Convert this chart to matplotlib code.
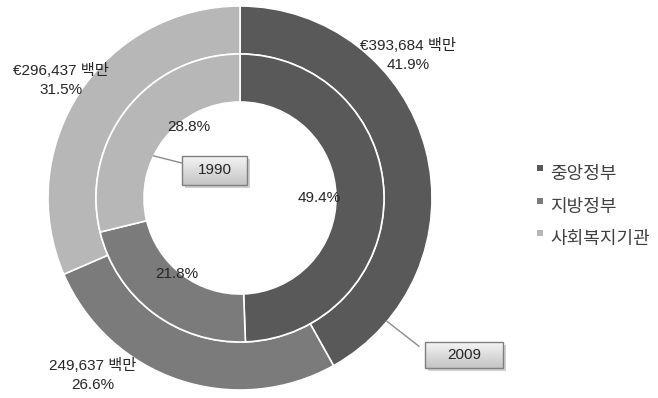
import numpy as np
import matplotlib
matplotlib.use("Agg")
import matplotlib.pyplot as plt
from matplotlib.patches import Rectangle
from matplotlib.colors import LinearSegmentedColormap

plt.rcParams['font.family'] = ['Liberation Sans', 'Noto Sans CJK KR', 'DejaVu Sans']

# 정부 부문별 지출 비중
categories = ['중앙정부', '지방정부', '사회복지기관']
share_2009 = [41.9, 26.6, 31.5]
share_1990 = [49.4, 21.8, 28.8]
amount_2009 = ['€393,684 백만', '249,637 백만', '€296,437 백만']
colors = ['#595959', '#7b7b7b', '#b7b7b7']

W, H = 658, 398
cx, cy, R = 240, 198, 192  # pie centre / radius in pixels

fig = plt.figure(figsize=(W / 100, H / 100), dpi=100)
ax = fig.add_axes([0, 0, 1, 1])

ax.pie(share_2009, radius=1.0, colors=colors, startangle=90, counterclock=False,
       wedgeprops=dict(width=0.25, edgecolor='white', linewidth=1.2))
ax.pie(share_1990, radius=0.75, colors=colors, startangle=90, counterclock=False,
       wedgeprops=dict(width=0.25, edgecolor='white', linewidth=1.2))

ax.set_aspect('equal')
ax.axis('off')

txt = dict(fontsize=11, color='#262626', ha='center', va='center', linespacing=1.45)

# outer ring labels (2009)
outer_pos = [(0.875, 0.745), (-0.766, -0.922), (-0.932, 0.615)]
for (x, y), amt, pct in zip(outer_pos, amount_2009, share_2009):
    ax.text(x, y, f'{amt}\n{pct:.1f}%', **txt)

# inner ring labels (1990)
inner_pos = [(0.411, 0.0), (-0.328, -0.396), (-0.266, 0.37)]
for (x, y), pct in zip(inner_pos, share_1990):
    ax.text(x, y, f'{pct:.1f}%', **txt)

box_cmap = LinearSegmentedColormap.from_list('box', ['#f4f4f4', '#c4c4c4'])


def callout(label, x0, y0, x1, y1, anchor_r, anchor_deg, attach):
    a = np.deg2rad(anchor_deg)
    ax.plot([anchor_r * np.cos(a), attach[0]], [anchor_r * np.sin(a), attach[1]],
            color='#8c8c8c', lw=1, zorder=4)
    dx, dy = 3 / R, -3 / R
    ax.add_patch(Rectangle((x0 + dx, y0 + dy), x1 - x0, y1 - y0,
                           facecolor='#d0d0d0', edgecolor='none', zorder=4))
    grad = np.linspace(0, 1, 64).reshape(-1, 1)
    ax.imshow(grad, cmap=box_cmap, extent=(x0, x1, y0, y1), origin='upper',
              aspect='auto', zorder=5)
    ax.add_patch(Rectangle((x0, y0), x1 - x0, y1 - y0, facecolor='none',
                           edgecolor='#7f7f7f', lw=1, zorder=6))
    ax.text((x0 + x1) / 2, (y0 + y1) / 2, label, fontsize=11, color='#262626',
            ha='center', va='center', zorder=7)


callout('1990', -0.302, 0.068, 0.036, 0.219, 0.5, 154, (-0.302, 0.182))
callout('2009', 0.964, -0.885, 1.370, -0.750, 1.0, -40, (0.932, -0.772))

ax.set_xlim(-cx / R, (W - cx) / R)
ax.set_ylim(-(H - cy) / R, cy / R)

# legend
for i, (name, c) in enumerate(zip(categories, colors)):
    top = 165 + 32.5 * i
    fig.patches.append(Rectangle((537 / W, 1 - (top + 6) / H), 6 / W, 6 / H, facecolor=c,
                                 edgecolor='none', transform=fig.transFigure, figure=fig))
    fig.text(550 / W, 1 - (top + 10) / H, name, fontsize=13, color='#404040',
             ha='left', va='center')

fig.savefig('out.png', dpi=100)
